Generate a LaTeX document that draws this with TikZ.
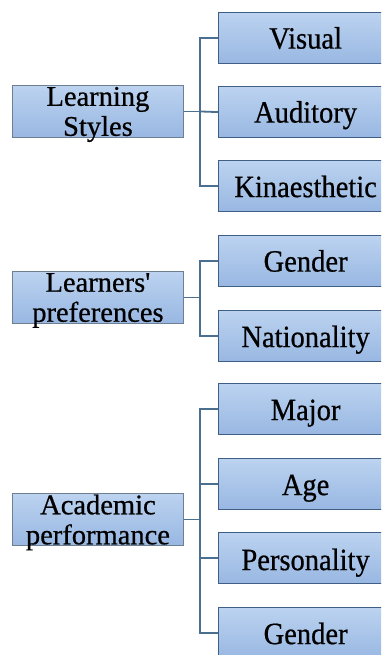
\documentclass[tikz,border=0pt]{standalone}
\usepackage{fontspec}
\setmainfont{Liberation Serif}[FakeBold=0.6]
\newfontfamily\rfont{Liberation Serif}[FakeStretch=0.92,FakeBold=0.6]
\definecolor{boxtop}{HTML}{BCD3F0}
\definecolor{boxbot}{HTML}{98B7E2}
\definecolor{boxline}{HTML}{3F5F85}
\definecolor{leftline}{HTML}{6F7F92}
\definecolor{conn}{HTML}{4B6F8F}
\newcommand{\sq}{{\addfontfeatures{Ligatures=TeXOff}'}}
\tikzset{
  px/.style={x=1pt,y=-1pt},
  rbox/.style={draw=boxline,line width=1.2pt,top color=boxtop,bottom color=boxbot,
    minimum width=174pt,minimum height=51pt,inner sep=0pt,anchor=north west},
  lbox/.style={draw=leftline,line width=0.9pt,top color=boxtop,bottom color=boxbot,
    minimum width=171pt,minimum height=52pt,inner sep=0pt,anchor=north west},
  rtxt/.style={font=\rfont\fontsize{31}{32}\selectfont,inner sep=0pt,anchor=base},
  ltxt/.style={font=\fontsize{28.5}{30}\selectfont,inner sep=0pt,align=center},
  conline/.style={draw=conn,line width=1.8pt},
}
\begin{document}
\begin{tikzpicture}[px]
\useasboundingbox (0,0) rectangle (381,655);
\begin{scope}
\clip (0,0) rectangle (381,655);
% right boxes
\node[rbox] (vis) at (218,12) {};
\node[rbox] (aud) at (218,86) {};
\node[rbox] (kin) at (218,160) {};
\node[rbox] (gen1) at (218,235) {};
\node[rbox] (nat) at (218,310) {};
\node[rbox] (maj) at (218,383) {};
\node[rbox] (age) at (218,458) {};
\node[rbox] (per) at (218,532) {};
\node[rbox] (gen2) at (218,607) {};
\node[rtxt] (visT) at ([yshift=-10.5pt]vis.center) {Visual};
\node[rtxt] (audT) at ([yshift=-10.5pt]aud.center) {Auditory};
\node[rtxt] (kinT) at ([yshift=-11pt]kin.center) {Kinaesthetic};
\node[rtxt] (gen1T) at ([yshift=-10.5pt]gen1.center) {Gender};
\node[rtxt] (natT) at ([yshift=-11pt]nat.center) {Nationality};
\node[rtxt] (majT) at ([yshift=-11pt]maj.center) {Major};
\node[rtxt] (ageT) at ([yshift=-11pt]age.center) {Age};
\node[rtxt] (perT) at ([yshift=-12pt]per.center) {Personality};
\node[rtxt] (gen2T) at ([yshift=-11pt]gen2.center) {Gender};
\end{scope}
% left boxes
\node[lbox] (ls) at (12,85) {};
\node[lbox] (lp) at (12,271) {};
\node[lbox] (ap) at (12,493) {};
\node[ltxt] (lsT) at ([yshift=-3pt]ls.center) {Learning\\Styles};
\node[ltxt] (lpT) at ([yshift=-3pt]lp.center) {Learners\sq\\preferences};
\node[ltxt] (apT) at ([yshift=-3pt]ap.center) {Academic\\performance};
% connectors
\coordinate (b1) at (ls.east -| 200,0);
\coordinate (b2) at (lp.east -| 200,0);
\coordinate (b3) at (ap.east -| 200,0);
\draw[conline] (ls.east) -- (b1);
\draw[conline] (vis.west) -| (b1) |- (kin.west);
\draw[conline] (b1) -- (aud.west);
\draw[conline] (lp.east) -- (b2);
\draw[conline] (gen1.west) -| (b2) |- (nat.west);
\draw[conline] (ap.east) -- (b3);
\draw[conline] (maj.west) -| (b3) |- (gen2.west);
\draw[conline] (age.west) -- (age.west -| b3);
\draw[conline] (per.west) -- (per.west -| b3);
\end{tikzpicture}
\end{document}
